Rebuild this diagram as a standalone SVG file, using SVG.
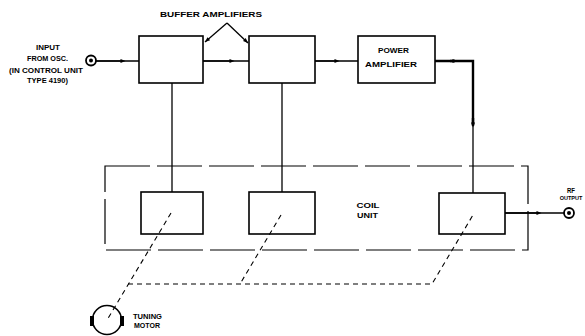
<svg xmlns="http://www.w3.org/2000/svg" width="585" height="336" viewBox="0 0 585 336">
<defs>
<style>
.box{fill:#fff;stroke:#000;stroke-width:1.6}
.ln{fill:none;stroke:#000;stroke-width:1.3}
.thick{fill:none;stroke:#000;stroke-width:2.4}
.dash{fill:none;stroke:#000;stroke-width:1.1;stroke-dasharray:5,4}
.frame{fill:none;stroke:#000;stroke-width:1.2;stroke-dasharray:45,7}
text{font-family:"Liberation Sans",Arial,sans-serif;font-weight:bold;fill:#000;text-anchor:middle}
.s7{font-size:7px}
.s8{font-size:8px}
.s55{font-size:5.5px}
</style>
<marker id="ah" viewBox="0 0 10 10" refX="5" refY="5" markerWidth="7" markerHeight="5" orient="auto" markerUnits="userSpaceOnUse">
<path d="M0,1 L10,5 L0,9 z" fill="#000"/>
</marker>
<marker id="tip" viewBox="0 0 10 10" refX="10" refY="5" markerWidth="7" markerHeight="5" orient="auto" markerUnits="userSpaceOnUse">
<path d="M0,1 L10,5 L0,9 z" fill="#000"/>
</marker>
</defs>
<rect width="585" height="336" fill="#fff"/>

<g id="coil-unit-frame">
<rect class="frame" x="105" y="166" width="423" height="84"/>
</g>

<g id="buffer-amp-1"><rect class="box" x="139" y="36" width="64" height="47"/></g>
<g id="buffer-amp-2"><rect class="box" x="249" y="36" width="66" height="47"/></g>
<g id="power-amp">
<rect class="box" x="358" y="36" width="77" height="47"/>
<text class="s8" x="393.5" y="53" textLength="31" lengthAdjust="spacingAndGlyphs">POWER</text>
<text class="s8" x="391" y="67" textLength="52" lengthAdjust="spacingAndGlyphs">AMPLIFIER</text>
</g>
<g id="coil-1"><rect class="box" x="141" y="192" width="62" height="42"/></g>
<g id="coil-2"><rect class="box" x="249" y="192" width="66" height="42"/></g>
<g id="coil-3"><rect class="box" x="439" y="193" width="66" height="41"/></g>

<g id="connectors">
<line class="ln" x1="96" y1="61" x2="139" y2="61"/>
<line class="ln" x1="96" y1="61" x2="123" y2="61" marker-end="url(#ah)"/>
<line class="ln" x1="203" y1="61" x2="249" y2="61"/>
<line class="ln" x1="203" y1="61" x2="232" y2="61" marker-end="url(#ah)"/>
<line class="ln" x1="315" y1="61" x2="358" y2="61"/>
<line class="ln" x1="315" y1="61" x2="337" y2="61" marker-end="url(#ah)"/>
<polyline class="thick" points="435,61 473,61 473,126"/>
<line class="thick" x1="450" y1="61" x2="455" y2="61" marker-end="url(#ah)"/>
<line class="thick" x1="473" y1="118" x2="473" y2="125" marker-end="url(#ah)"/>
<line class="ln" x1="473" y1="126" x2="473" y2="193"/>
<line class="ln" x1="172" y1="83" x2="172" y2="192"/>
<line class="ln" x1="282" y1="83" x2="282" y2="192"/>
<line class="ln" x1="505" y1="213" x2="564" y2="213"/>
<line class="ln" x1="505" y1="213" x2="539" y2="213" marker-end="url(#ah)"/>
<line class="ln" x1="227" y1="23" x2="205" y2="42" marker-end="url(#tip)"/>
<line class="ln" x1="227" y1="23" x2="248" y2="43" marker-end="url(#tip)"/>
<path class="dash" d="M171,213 L107,320"/>
<path class="dash" d="M128,284 L432,284 L473,215"/>
<path class="dash" d="M281,215 L240,284"/>
</g>

<g id="input">
<circle cx="91" cy="60.5" r="5" fill="#fff" stroke="#000" stroke-width="1.8"/>
<circle cx="91" cy="60.5" r="2" fill="#000"/>
<text class="s7" x="48" y="49.5" textLength="24" lengthAdjust="spacingAndGlyphs">INPUT</text>
<text class="s7" x="47.5" y="61" textLength="41" lengthAdjust="spacingAndGlyphs">FROM OSC.</text>
<text class="s7" x="46" y="73" textLength="74" lengthAdjust="spacingAndGlyphs">(IN CONTROL UNIT</text>
<text class="s7" x="47.5" y="83" textLength="41" lengthAdjust="spacingAndGlyphs">TYPE 4190)</text>
</g>

<g id="rf-output">
<circle cx="569" cy="213" r="5" fill="#fff" stroke="#000" stroke-width="1.8"/>
<circle cx="569" cy="213" r="2" fill="#000"/>
<text class="s7" x="571" y="192.5" textLength="8" lengthAdjust="spacingAndGlyphs">RF</text>
<text class="s55" x="571" y="200">OUTPUT</text>
</g>

<g id="tuning-motor">
<circle cx="107" cy="320" r="14.5" fill="none" stroke="#000" stroke-width="1.6"/>
<rect x="90" y="316" width="4" height="10" fill="#000"/>
<rect x="120" y="316" width="4" height="10" fill="#000"/>
<text class="s7" x="147.5" y="318.5" textLength="29" lengthAdjust="spacingAndGlyphs">TUNING</text>
<text class="s7" x="147" y="328" textLength="26" lengthAdjust="spacingAndGlyphs">MOTOR</text>
</g>

<g id="labels">
<text class="s8" x="211" y="17" textLength="102" lengthAdjust="spacingAndGlyphs">BUFFER AMPLIFIERS</text>
<text class="s8" x="368" y="207.5" textLength="23" lengthAdjust="spacingAndGlyphs">COIL</text>
<text class="s8" x="367.5" y="218" textLength="21" lengthAdjust="spacingAndGlyphs">UNIT</text>
</g>
</svg>
